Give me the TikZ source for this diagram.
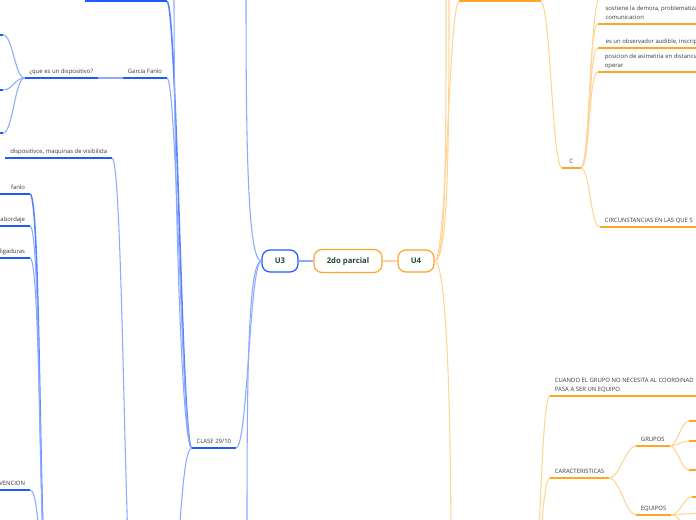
\documentclass[tikz,border=0pt]{standalone}
\usepackage{fontspec}
\setmainfont{Open Sans}

\definecolor{u3blue}{RGB}{30,90,255}
\definecolor{u3light}{RGB}{140,170,255}
\definecolor{u4orange}{RGB}{255,165,40}
\definecolor{u4light}{RGB}{255,212,150}
\definecolor{unitgreen}{RGB}{35,70,55}
\definecolor{topicgray}{RGB}{55,55,55}

\begin{document}
\begin{tikzpicture}[
    x=0.75pt, y=-0.75pt,
    unit/.style={rectangle, rounded corners=6pt, line width=0.9pt, fill=white,
                 minimum width=27pt, minimum height=16.5pt, text=unitgreen,
                 font=\bfseries\fontsize{5.8}{7}\selectfont},
    topic/.style={inner xsep=3.5pt, inner ysep=2pt, text depth=1.3pt,
                  text=topicgray, font=\fontsize{4.45}{6.7}\selectfont},
    lefttopic/.style={topic, anchor=south east},
    righttopic/.style={topic, anchor=south west, align=left},
    ulb/.style={u3blue, line width=1.5pt},
    ulo/.style={u4orange, line width=1.5pt},
    cb/.style={u3light, line width=0.8pt},
    cbt/.style={u3blue!75, line width=1.2pt},
    co/.style={u4light, line width=0.8pt}
]
    \useasboundingbox (0,0) rectangle (696,520);
    \clip (0,0) rectangle (696,520);

    % Central topics
    \node[unit, draw=u3blue] (u3) at (280,261) {U3};
    \node[unit, draw=u4orange, minimum width=51pt, minimum height=17.25pt]
        (parcial) at (348,261) {2do parcial};
    \node[unit, draw=u4orange] (u4) at (416,261) {U4};

    % U3 topics
    \node[lefttopic, minimum width=60.75pt] (topA) at (167,1.5) {};
    \node[lefttopic] (garcia) at (167,78) {Garcia Fanlo};
    \node[lefttopic] (quees)  at (98,78)  {¿que es un dispositivo?};
    \node[lefttopic] (disp)   at (112,158) {dispositivos, maquinas de visibilida};
    \node[lefttopic, text width=30pt, align=right] (fanlo)     at (30,194) {fanlo};
    \node[lefttopic, text width=30pt, align=right] (abordaje)  at (30,226) {abordaje};
    \node[lefttopic, text width=30pt, align=right] (ligaduras) at (30,258) {ligaduras};
    \node[lefttopic, text width=30pt, align=right] (vencion)   at (30,490) {VENCION};
    \node[lefttopic] (clase)  at (236,448) {CLASE 29/10};

    % U4 topics
    \node[righttopic, minimum width=60.75pt] (topB) at (459,1.5) {};
    \node[righttopic, minimum width=13.5pt] (cnode) at (562,168) {C};
    \node[righttopic, minimum width=80pt] (sostiene) at (598,24) {sostiene la demora, problematiza\\comunicacion};
    \node[righttopic, minimum width=80pt] (observ)   at (598,48) {es un observador audible, inscrip};
    \node[righttopic, minimum width=80pt] (posicion) at (598,72) {posicion de asimetria en distancia\\operar};
    \node[righttopic] (circ)     at (600,227) {CIRCUNSTANCIAS EN LAS QUE S};
    \node[righttopic, minimum width=110pt] (cuando)  at (550,396) {CUANDO EL GRUPO NO NECESITA AL COORDINAD\\PASA A SER UN EQUIPO};
    \node[righttopic] (caract)   at (550,478) {CARACTERISTICAS};
    \node[righttopic] (grupos)   at (636,446) {GRUPOS};
    \node[righttopic] (equipos)  at (636,515) {EQUIPOS};

    % Free ends (topics outside the view)
    \coordinate (u3up)      at (246,-10);
    \coordinate (u3down)    at (247,540);
    \coordinate (claseup)   at (174,-10);
    \coordinate (clasedown) at (168,600);
    \coordinate (qa) at (3,35);
    \coordinate (qb) at (3,90);
    \coordinate (qc) at (3,133);
    \coordinate (dispdown)  at (136,640);
    \coordinate (lowL)      at (50,610);
    \coordinate (u4upa)     at (446,-10);
    \coordinate (u4upb)     at (449,-10);
    \coordinate (u4down)    at (451,560);
    \coordinate (ctop)      at (600,-3);
    \coordinate (lowR)      at (530,620);
    \coordinate (ga) at (689,421);
    \coordinate (gb) at (689,441);
    \coordinate (gc) at (689,470);
    \coordinate (ea) at (692,497);
    \coordinate (eb) at (700,513);
    \coordinate (ec) at (688,540);

    % Center links
    \draw[cb] (u3.east) -- (parcial.west);
    \draw[co] (parcial.east) -- (u4.west);

    % U3 links
    \draw[cb] (u3.west) .. controls +(-14,0) and +(0,150) .. (u3up);
    \draw[cb] (u3.west) .. controls +(-14,0) and +(0,-150) .. (u3down);
    \draw[cb] (u3.west) .. controls +(-12,0) and +(12,0) .. (clase.south east);
    \draw[cbt] (clase.south west) .. controls +(-10,0) and +(10,0) .. (topA.south east);
    \draw[cb] (clase.south west) .. controls +(-10,0) and +(10,0) .. (garcia.south east);
    \draw[cb] (clase.south west) .. controls +(-10,0) and +(0,200) .. (claseup);
    \draw[cb] (clase.south west) .. controls +(-12,0) and +(12,0) .. (clasedown);
    \draw[cb] (garcia.south west) -- (quees.south east);
    \draw[cb] (quees.south west) .. controls +(-10,0) and +(10,0) .. (qa);
    \draw[cb] (quees.south west) .. controls +(-10,0) and +(10,0) .. (qb);
    \draw[cb] (quees.south west) .. controls +(-10,0) and +(10,0) .. (qc);
    \draw[cb] (disp.south east) .. controls +(12,0) and +(-12,0) .. (dispdown);
    \draw[cbt] (fanlo.south east) .. controls +(12,0) and +(-12,0) .. (lowL);
    \draw[cb] (abordaje.south east) .. controls +(12,0) and +(-12,0) .. (lowL);
    \draw[cb] (ligaduras.south east) .. controls +(12,0) and +(-12,0) .. (lowL);
    \draw[cb] (vencion.south east) .. controls +(12,0) and +(-12,0) .. (lowL);

    % U4 links
    \draw[co] (u4.east) .. controls +(12,0) and +(0,150) .. (u4upa);
    \draw[co] (u4.east) .. controls +(14,0) and +(0,150) .. (u4upb);
    \draw[co] (u4.east) .. controls +(12,0) and +(-10,0) .. (topB.south west);
    \draw[co] (u4.east) .. controls +(12,0) and +(0,-150) .. (u4down);
    \draw[co] (topB.south east) .. controls +(10,0) and +(-10,0) .. (cnode.south west);
    \draw[co] (cnode.south east) .. controls +(10,0) and +(-10,0) .. (ctop);
    \draw[co] (cnode.south east) .. controls +(10,0) and +(-10,0) .. (sostiene.south west);
    \draw[co] (cnode.south east) .. controls +(10,0) and +(-10,0) .. (observ.south west);
    \draw[co] (cnode.south east) .. controls +(10,0) and +(-10,0) .. (posicion.south west);
    \draw[co] (cnode.south east) .. controls +(10,0) and +(-10,0) .. (circ.south west);
    \draw[co] (cuando.south west) .. controls +(-10,0) and +(10,0) .. (lowR);
    \draw[co] (caract.south west) .. controls +(-10,0) and +(10,0) .. (lowR);
    \draw[co] (caract.south east) .. controls +(10,0) and +(-10,0) .. (grupos.south west);
    \draw[co] (caract.south east) .. controls +(10,0) and +(-10,0) .. (equipos.south west);
    \draw[co] (grupos.south east) .. controls +(8,0) and +(-8,0) .. (ga);
    \draw[co] (grupos.south east) .. controls +(8,0) and +(-8,0) .. (gb);
    \draw[co] (grupos.south east) .. controls +(8,0) and +(-8,0) .. (gc);
    \draw[co] (equipos.south east) .. controls +(8,0) and +(-8,0) .. (ea);
    \draw[co] (equipos.south east) -- (eb);
    \draw[co] (equipos.south east) .. controls +(8,0) and +(0,-10) .. (ec);

    % Underlines
    \foreach \t in {topA, garcia, quees, disp, fanlo, abordaje, ligaduras, vencion, clase}
        \draw[ulb] (\t.south west) -- (\t.south east);
    \foreach \t in {topB, cnode, sostiene, observ, posicion, circ, cuando, caract, grupos, equipos}
        \draw[ulo] (\t.south west) -- (\t.south east);
    \draw[ulb] (qa) -- ++(-10,0);
    \draw[ulb] (qb) -- ++(-10,0);
    \draw[ulb] (qc) -- ++(-10,0);
    \draw[ulo] (ga) -- ++(12,0);
    \draw[ulo] (gb) -- ++(12,0);
    \draw[ulo] (gc) -- ++(12,0);
    \draw[ulo] (ea) -- ++(12,0);

\end{tikzpicture}
\end{document}
